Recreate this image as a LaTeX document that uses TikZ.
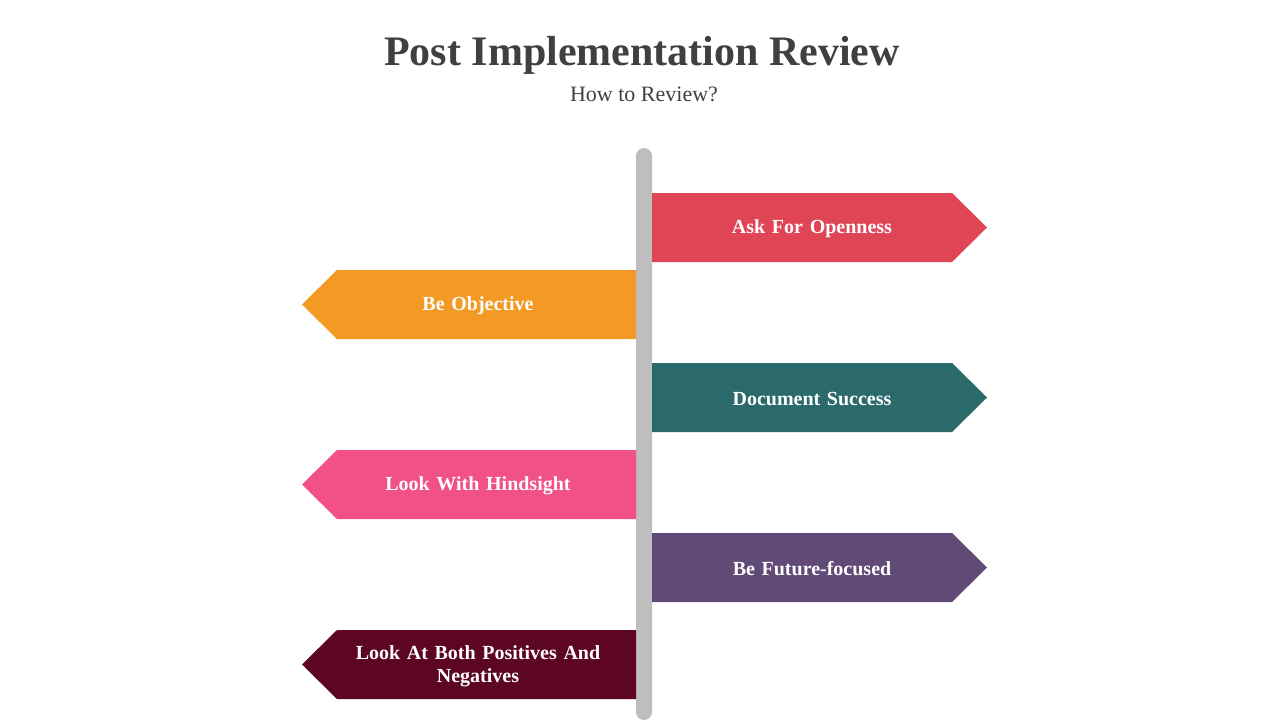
\documentclass[tikz,border=0pt]{standalone}
\usepackage{fontspec}
\setmainfont{Liberation Serif}
\definecolor{titlegray}{HTML}{404040}
\definecolor{polegray}{HTML}{BEBEBE}
\definecolor{askred}{HTML}{E04556}
\definecolor{objorange}{HTML}{F39A25}
\definecolor{docteal}{HTML}{2B6A6B}
\definecolor{hindpink}{HTML}{F25186}
\definecolor{futpurple}{HTML}{614A76}
\definecolor{bothmaroon}{HTML}{5C0624}
\tikzset{
	signtext/.style={text=white, font=\bfseries\fontsize{20}{23}\selectfont, align=center, text width=270pt},
}
\begin{document}
\begin{tikzpicture}[x=1pt,y=-1pt]
			\useasboundingbox (0,0) rectangle (1280,720);
			\node[text=titlegray, font=\bfseries\fontsize{42}{48}\selectfont] (title) at (642,55) {Post Implementation Review};
			\node[text=titlegray, font=\fontsize{22}{26}\selectfont] (subtitle) at (644,94) {How to Review?};
			% pole
			\fill[polegray, rounded corners=8] (636,148) rectangle (652,720);
			\coordinate (pole) at (644,148);
			% signs to the right
			\foreach \y/\col/\txt [count=\i] in {227.5/askred/Ask For Openness, 397.5/docteal/Document Success, 567.5/futpurple/Be Future-focused}
			{
				\fill[\col] (652,\y-34.5) -- (952,\y-34.5) -- (987,\y) -- (952,\y+34.5) -- (652,\y+34.5) -- cycle;
				\node[signtext] (right\i) at (812,\y+1.5) {\txt};
			}
			% signs to the left
			\foreach \y/\col/\txt [count=\i] in {304.5/objorange/Be Objective, 484.5/hindpink/Look With Hindsight, 664.5/bothmaroon/{Look At Both Positives And\\ Negatives}}
			{
				\fill[\col] (636,\y-34.5) -- (337,\y-34.5) -- (302,\y) -- (337,\y+34.5) -- (636,\y+34.5) -- cycle;
				\node[signtext] (left\i) at (478,\y+1.5) {\txt};
			}
		\end{tikzpicture}
\end{document}
